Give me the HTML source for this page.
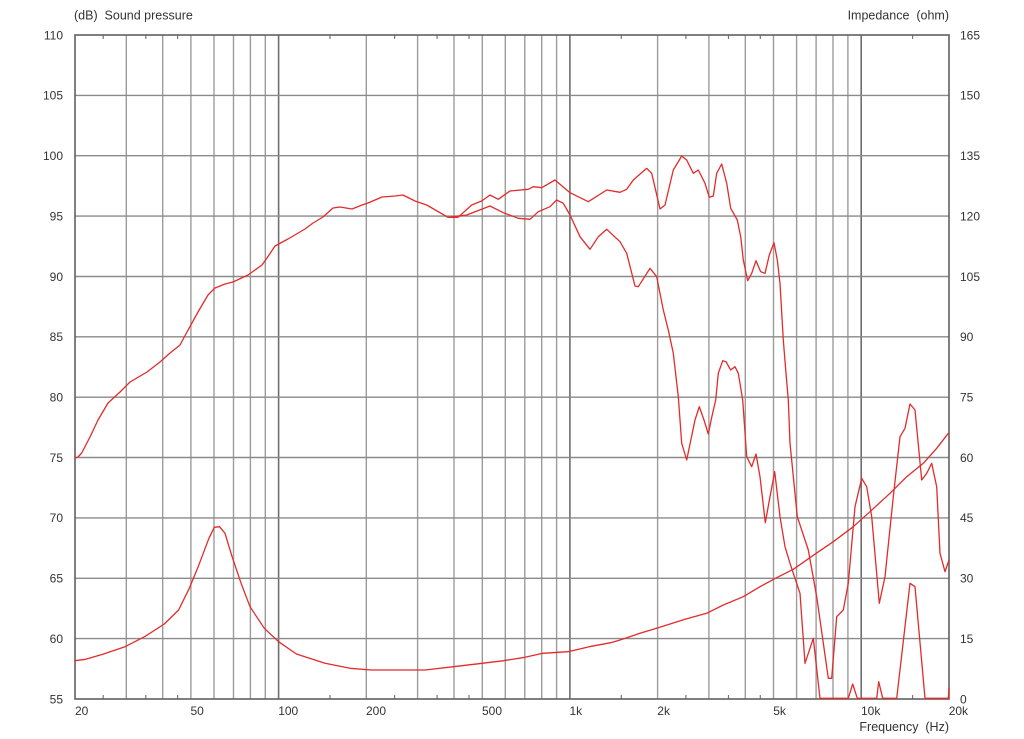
<!DOCTYPE html>
<html>
<head>
<meta charset="utf-8">
<style>
  html, body { margin:0; padding:0; background:#fff; }
  body { width:1024px; height:739px; overflow:hidden; }
  svg { display:block; }
  text { font-family: "Liberation Sans", Arial, sans-serif; fill:#333; }
</style>
</head>
<body>
<svg width="1024" height="739" viewBox="0 0 1024 739" xmlns="http://www.w3.org/2000/svg">
  <rect x="0" y="0" width="1024" height="739" fill="#fff"/>

  <!-- vertical grid -->
  <g stroke="#9c9c9c" stroke-width="1.4" fill="none">
    <line x1="126.3" y1="35" x2="126.3" y2="699"/>
    <line x1="162.7" y1="35" x2="162.7" y2="699"/>
    <line x1="190.9" y1="35" x2="190.9" y2="699"/>
    <line x1="214.0" y1="35" x2="214.0" y2="699"/>
    <line x1="233.5" y1="35" x2="233.5" y2="699"/>
    <line x1="250.4" y1="35" x2="250.4" y2="699"/>
    <line x1="265.3" y1="35" x2="265.3" y2="699"/>
    <line x1="366.3" y1="35" x2="366.3" y2="699"/>
    <line x1="417.6" y1="35" x2="417.6" y2="699"/>
    <line x1="454.0" y1="35" x2="454.0" y2="699"/>
    <line x1="482.3" y1="35" x2="482.3" y2="699"/>
    <line x1="505.3" y1="35" x2="505.3" y2="699"/>
    <line x1="524.8" y1="35" x2="524.8" y2="699"/>
    <line x1="541.7" y1="35" x2="541.7" y2="699"/>
    <line x1="556.6" y1="35" x2="556.6" y2="699"/>
    <line x1="657.6" y1="35" x2="657.6" y2="699"/>
    <line x1="708.9" y1="35" x2="708.9" y2="699"/>
    <line x1="745.3" y1="35" x2="745.3" y2="699"/>
    <line x1="773.5" y1="35" x2="773.5" y2="699"/>
    <line x1="796.6" y1="35" x2="796.6" y2="699"/>
    <line x1="816.1" y1="35" x2="816.1" y2="699"/>
    <line x1="833.0" y1="35" x2="833.0" y2="699"/>
    <line x1="847.9" y1="35" x2="847.9" y2="699"/>
  </g>
  <g stroke="#6e6e6e" stroke-width="1.6" fill="none">
    <line x1="278.6" y1="35" x2="278.6" y2="699"/>
    <line x1="569.9" y1="35" x2="569.9" y2="699"/>
    <line x1="861.2" y1="35" x2="861.2" y2="699"/>
  </g>
  <!-- horizontal grid -->
  <g stroke="#8a8a8a" stroke-width="1.4" fill="none">
    <line x1="75" y1="95.4" x2="949" y2="95.4"/>
    <line x1="75" y1="155.7" x2="949" y2="155.7"/>
    <line x1="75" y1="216.1" x2="949" y2="216.1"/>
    <line x1="75" y1="276.5" x2="949" y2="276.5"/>
    <line x1="75" y1="336.8" x2="949" y2="336.8"/>
    <line x1="75" y1="397.2" x2="949" y2="397.2"/>
    <line x1="75" y1="457.5" x2="949" y2="457.5"/>
    <line x1="75" y1="517.9" x2="949" y2="517.9"/>
    <line x1="75" y1="578.3" x2="949" y2="578.3"/>
    <line x1="75" y1="638.6" x2="949" y2="638.6"/>
  </g>
  <!-- minor ticks -->
  <g stroke="#777" stroke-width="1.2">
    <line x1="103.2" y1="35" x2="103.2" y2="39"/><line x1="103.2" y1="695" x2="103.2" y2="699"/>
    <line x1="145.8" y1="35" x2="145.8" y2="39"/><line x1="145.8" y1="695" x2="145.8" y2="699"/>
    <line x1="177.6" y1="35" x2="177.6" y2="39"/><line x1="177.6" y1="695" x2="177.6" y2="699"/>
    <line x1="330.0" y1="35" x2="330.0" y2="39"/><line x1="330.0" y1="695" x2="330.0" y2="699"/>
    <line x1="394.6" y1="35" x2="394.6" y2="39"/><line x1="394.6" y1="695" x2="394.6" y2="699"/>
    <line x1="437.1" y1="35" x2="437.1" y2="39"/><line x1="437.1" y1="695" x2="437.1" y2="699"/>
    <line x1="469.0" y1="35" x2="469.0" y2="39"/><line x1="469.0" y1="695" x2="469.0" y2="699"/>
    <line x1="621.3" y1="35" x2="621.3" y2="39"/><line x1="621.3" y1="695" x2="621.3" y2="699"/>
    <line x1="685.9" y1="35" x2="685.9" y2="39"/><line x1="685.9" y1="695" x2="685.9" y2="699"/>
    <line x1="728.5" y1="35" x2="728.5" y2="39"/><line x1="728.5" y1="695" x2="728.5" y2="699"/>
    <line x1="760.3" y1="35" x2="760.3" y2="39"/><line x1="760.3" y1="695" x2="760.3" y2="699"/>
    <line x1="912.6" y1="35" x2="912.6" y2="39"/><line x1="912.6" y1="695" x2="912.6" y2="699"/>
  </g>
  <!-- frame -->
  <rect x="75" y="35" width="874" height="664" fill="none" stroke="#606060" stroke-width="1.6"/>

  <!-- curves -->
  <g fill="none" stroke="#e22b2b" stroke-width="1.3" stroke-linejoin="round" stroke-linecap="round">
    <!-- SPL curve 1 -->
    <polyline points="75,458 78,457 81.7,453 90,437 98,420 108,403 120,392 130,382 147,372 160,362 170,353 180,345 187,332 198,312 208,295 215,288 225,284 233,282 248,275 262,265 267,258 275,246 288,239 305,229 313,223 323,217 333,208 340,207 352,209 362,205 368,203 382,197 395,196 403,195 415,201 426.7,205 448,217.3 458,217.3 471.7,205 481.7,201 490,195 498.3,199.3 510,191 528.3,189.3 533.3,186.7 541.7,187.7 555,180 570,192.7 588.3,201.7 606.7,190 620,192.3 626.7,189.3 633.3,180 646.7,168.3 651.7,173.3 660,209 665,205 673.3,170 681.7,156 686.7,160 693.3,173.3 698.3,170 705,183.3 709.3,197.3 713.3,196 716.7,173.3 721.7,164 726.7,183.3 730.7,208.3 737.3,220 740.7,236.7 743.3,260 747.7,280.7 751.7,273.3 756,260.7 760.7,271.7 765,273.3 769.3,255 774,242.7 777.3,260 780,283.3 783.3,340 786,373.3 788.3,400 790,443.3 797.3,516.7 808.3,550 816.7,596.7 828.3,678.3 831.7,678.3 836.7,616.7 843.3,610 848.3,583.3 855,506.7 861.7,478.3 866.7,486.7 871.7,516.7 879.3,603.3 885,576.7 893.3,496.7 900,436.7 905,428.3 910,404 915,410 921.7,480 926.7,473.3 931.7,463.3 936.7,486.7 940,553.3 945,571.7 949,560"/>
    <!-- SPL curve 2 -->
    <polyline points="448.3,217.3 466.7,215 490,206 503.3,212.7 518.3,218.3 530,219.3 538.3,211.7 550,206.7 556.7,200 563.3,203.3 570,215 580,236.7 590,249.3 598.3,236.7 606.7,229.3 620,241.7 626.7,253.3 635,286 638.3,286.7 650,268.3 656.7,276.7 663.3,310 668.3,330 673.3,353.3 678.3,396.7 681.7,443.3 686.7,460 695,420 699.3,406.7 704,420 708.3,434 712,416 715.7,400 718.3,373.3 722.7,360.7 726,361.7 730.7,370 735,366.7 738.3,373.3 742.7,400 746.7,456.7 751.7,466.7 756,454 760,476.7 765.3,522.7 770,496.7 774.7,471.7 780,516.7 785,546.7 790,563.3 800,593.3 805,663.3 813.3,638.3 820,698.3 848.3,698.3 852.7,684 857.3,698.3 876.7,698.3 878.7,681.7 882.7,698.3 896.7,698.3 910,583.3 915,586.7 925,698.3 948.3,698.3 949,688"/>
    <!-- Impedance -->
    <polyline points="75,660.7 85.7,659.3 103.6,654 125,646.7 144.6,636.7 164.3,624 178.6,610 189.3,588.3 198.2,566.7 208.9,538.3 214.3,527.3 219.6,526.7 225,533.3 232.1,556.7 241.1,583.3 250,606.7 264.3,628.3 278.6,641.7 296.4,654 325,663.3 350,668.3 371.4,670 425,670 453.6,666.7 482.1,663.3 503.6,660.7 525,657.3 542.9,653.3 567.9,651.7 589.3,646.7 610.7,642.7 620,640 640,633.3 658.3,627.7 685,619.3 706.7,613.3 723.3,605 743.3,596.7 760,586.7 776.7,577.7 793.3,569.3 813.3,555.3 833.3,541.7 853.3,526.7 870,511.7 890,493.3 906.7,476.7 923.3,463.3 936.7,448.3 948.3,433.3"/>
  </g>

  <!-- titles -->
  <text x="74" y="19.5" font-size="12.5" xml:space="preserve">(dB)  Sound pressure</text>
  <text x="949" y="19.5" font-size="12.5" text-anchor="end" xml:space="preserve">Impedance  (ohm)</text>
  <text x="949" y="731" font-size="12.5" text-anchor="end" xml:space="preserve">Frequency  (Hz)</text>

  <!-- left axis labels -->
  <g font-size="12" text-anchor="end">
    <text x="63" y="39.3">110</text>
    <text x="63" y="99.7">105</text>
    <text x="63" y="160">100</text>
    <text x="63" y="220.4">95</text>
    <text x="63" y="280.8">90</text>
    <text x="63" y="341.1">85</text>
    <text x="63" y="401.5">80</text>
    <text x="63" y="461.8">75</text>
    <text x="63" y="522.2">70</text>
    <text x="63" y="582.6">65</text>
    <text x="63" y="642.9">60</text>
    <text x="63" y="703.3">55</text>
  </g>
  <!-- right axis labels -->
  <g font-size="12">
    <text x="960" y="39.3">165</text>
    <text x="960" y="99.7">150</text>
    <text x="960" y="160">135</text>
    <text x="960" y="220.4">120</text>
    <text x="960" y="280.8">105</text>
    <text x="960" y="341.1">90</text>
    <text x="960" y="401.5">75</text>
    <text x="960" y="461.8">60</text>
    <text x="960" y="522.2">45</text>
    <text x="960" y="582.6">30</text>
    <text x="960" y="642.9">15</text>
    <text x="960" y="703.3">0</text>
  </g>
  <!-- bottom axis labels -->
  <g font-size="12">
    <text x="75" y="715">20</text>
    <text x="190.5" y="715">50</text>
    <text x="278.2" y="715">100</text>
    <text x="366" y="715">200</text>
    <text x="482" y="715">500</text>
    <text x="569.5" y="715">1k</text>
    <text x="657.3" y="715">2k</text>
    <text x="773.2" y="715">5k</text>
    <text x="861" y="715">10k</text>
    <text x="948.7" y="715">20k</text>
  </g>
</svg>
</body>
</html>
